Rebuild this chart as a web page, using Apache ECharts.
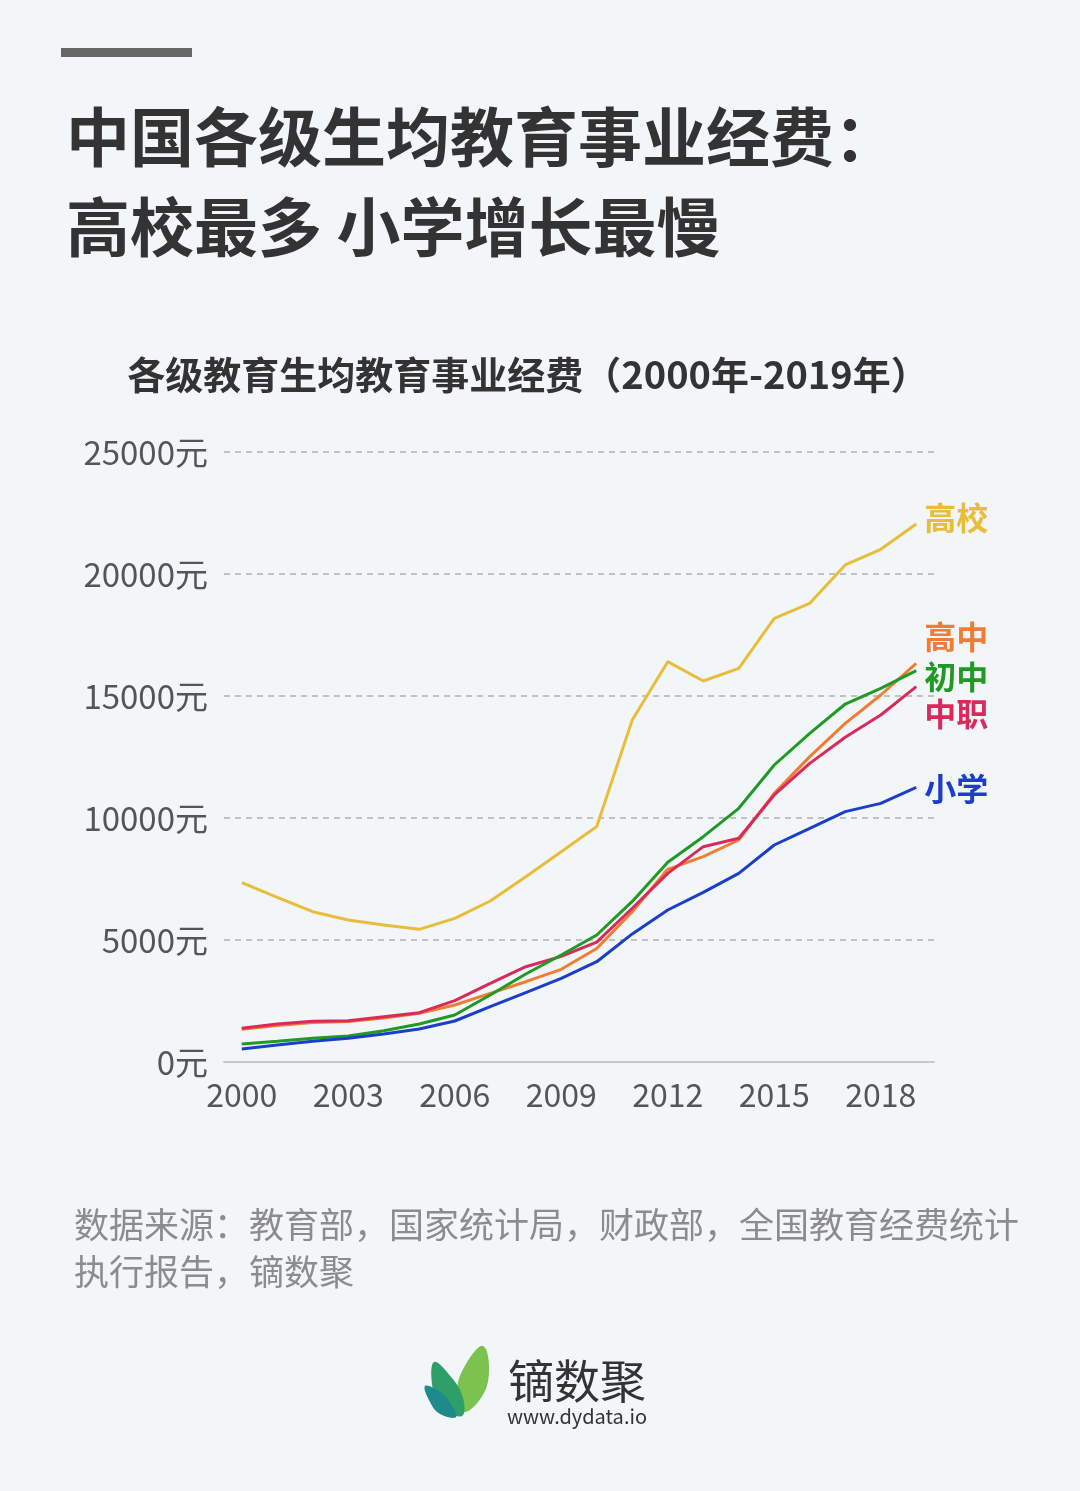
<!DOCTYPE html>
<html>
<head>
<meta charset="utf-8">
<script src="https://cdn.jsdelivr.net/npm/echarts@6/dist/echarts.min.js"></script>
<style>
html,body{margin:0;padding:0;background:#f3f6f9;}
#c{width:1080px;height:1491px;}
</style>
</head>
<body>
<div id="c"></div>
<script>
const years = ['2000','2001','2002','2003','2004','2005','2006','2007','2008','2009','2010','2011','2012','2013','2014','2015','2016','2017','2018','2019'];
const gaoxiao = [7348, 6750, 6160, 5820, 5615, 5437, 5889, 6598, 7595, 8620, 9650, 14016, 16407, 15615, 16133, 18183, 18798, 20369, 21011, 22049];
const gaozhong = [1339, 1500, 1620, 1660, 1800, 2000, 2336, 2815, 3291, 3798, 4650, 6160, 7896, 8414, 9098, 11011, 12514, 13880, 15041, 16339];
const zhongzhi = [1380, 1557, 1668, 1693, 1857, 2021, 2514, 3225, 3906, 4330, 4910, 6300, 7732, 8825, 9167, 10943, 12240, 13306, 14221, 15383];
const chuzhong = [738, 847, 970, 1066, 1284, 1557, 1926, 2746, 3607, 4385, 5205, 6580, 8190, 9234, 10397, 12172, 13470, 14672, 15314, 16038];
const xiaoxue = [533, 697, 847, 970, 1147, 1352, 1680, 2268, 2842, 3429, 4110, 5250, 6230, 6950, 7732, 8893, 9577, 10260, 10601, 11258];
const yTicks = [0, 5000, 10000, 15000, 20000, 25000];

const FONT = '"Noto Sans CJK SC", "Noto Sans", sans-serif';
const chart = echarts.init(document.getElementById('c'), null, {renderer: 'canvas'});

function mkSeries(name, data, color, dy) {
  return {
    name: name, type: 'line', data: data, symbol: 'none', smooth: false,
    lineStyle: {color: color, width: 3},
    itemStyle: {color: color},
    endLabel: {show: true, formatter: name, color: color, fontSize: 32, fontWeight: 'bold',
      fontFamily: FONT, distance: 8, offset: [0, dy]},
    emphasis: {disabled: true}
  };
}

chart.setOption({
  backgroundColor: '#f3f6f9',
  animation: false,
  grid: {left: 224, right: 146, top: 452, bottom: 429},
  xAxis: {
    type: 'category', data: years, boundaryGap: true,
    axisLine: {lineStyle: {color: '#c8c8c8', width: 2}},
    axisTick: {alignWithLabel: true, interval: 2, length: 6, lineStyle: {color: '#c8c8c8', width: 1.5}},
    axisLabel: {interval: 2, color: '#555', fontSize: 32, fontFamily: FONT, margin: 17}
  },
  yAxis: {
    type: 'value', min: yTicks[0], max: yTicks[yTicks.length - 1], interval: 5000,
    axisLine: {show: false}, axisTick: {show: false},
    axisLabel: {formatter: function (v) { return v + '元'; }, color: '#555', fontSize: 33, fontFamily: FONT, margin: 16},
    splitLine: {lineStyle: {color: '#b0b0b0', type: [6, 5], width: 1.5}}
  },
  series: [
    mkSeries('高校', gaoxiao, '#e8bd3a', -6),
    mkSeries('高中', gaozhong, '#ef7d35', -26),
    mkSeries('中职', zhongzhi, '#d92b5b', 27),
    mkSeries('初中', chuzhong, '#1f9a25', 6),
    mkSeries('小学', xiaoxue, '#1c3ec8', 2)
  ],
  graphic: [
    {type: 'rect', shape: {x: 61, y: 48, width: 131, height: 9}, style: {fill: '#666'}},
    {type: 'text', x: 66, y: 137, style: {text: '中国各级生均教育事业经费：', font: 'bold 64px ' + FONT, fill: '#333', textVerticalAlign: 'middle'}},
    {type: 'text', x: 66, y: 227, style: {text: '高校最多 小学增长最慢', font: 'bold 64px ' + FONT, fill: '#333', textVerticalAlign: 'middle'}},
    {type: 'text', x: 528, y: 375, style: {text: '各级教育生均教育事业经费（2000年-2019年）', font: 'bold 38px ' + FONT, fill: '#333', textAlign: 'center', textVerticalAlign: 'middle'}},
    {type: 'text', x: 74, y: 1225, style: {text: '数据来源：教育部，国家统计局，财政部，全国教育经费统计', font: '35px ' + FONT, fill: '#8c8c8c', textVerticalAlign: 'middle'}},
    {type: 'text', x: 74, y: 1272, style: {text: '执行报告，镝数聚', font: '35px ' + FONT, fill: '#8c8c8c', textVerticalAlign: 'middle'}},
    {type: 'polygon', shape: {points: [[463, 1412], [457, 1390], [466, 1364], [483, 1346], [489, 1372], [481, 1398]], smooth: 0.4}, style: {fill: '#7cc24e'}},
    {type: 'polygon', shape: {points: [[462, 1416], [442, 1408], [433, 1390], [434, 1362], [452, 1378], [463, 1398]], smooth: 0.4}, style: {fill: '#2f9f6a'}},
    {type: 'polygon', shape: {points: [[456, 1417], [440, 1414], [430, 1402], [425, 1386], [440, 1392], [451, 1404]], smooth: 0.4}, style: {fill: '#1f8a8c'}},
    {type: 'text', x: 577, y: 1381, style: {text: '镝数聚', font: '46px ' + FONT, fill: '#333', textAlign: 'center', textVerticalAlign: 'middle'}},
    {type: 'text', x: 577, y: 1416, style: {text: 'www.dydata.io', font: '20px ' + FONT, fill: '#333', textAlign: 'center', textVerticalAlign: 'middle'}}
  ]
});
</script>
</body>
</html>
